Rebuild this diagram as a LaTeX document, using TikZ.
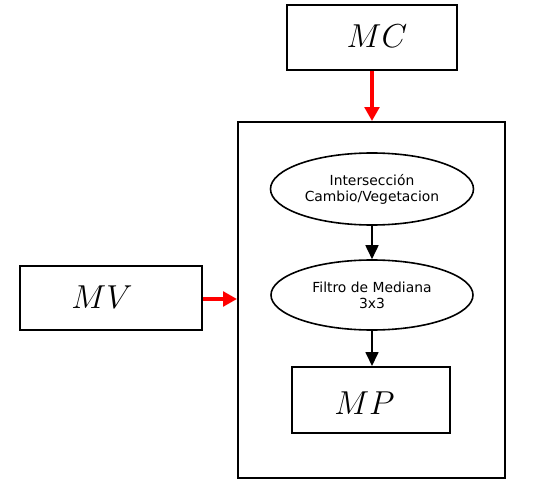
\documentclass[tikz,border=0pt]{standalone}
\usepackage{fontspec}
\setsansfont{DejaVu Sans}
\usetikzlibrary{arrows.meta,shapes.geometric}
\begin{document}
\begin{tikzpicture}[x=0.75pt,y=-0.75pt,
  boxnode/.style={draw,line width=1.5pt,inner sep=0pt},
  labelnode/.style={inner sep=0pt,font=\fontsize{23}{27}\selectfont},
  ellnode/.style={ellipse,draw,line width=1.2pt,inner sep=0pt,align=center,font=\sffamily\fontsize{10.4}{12}\selectfont},
  redarrow/.style={draw=red,line width=2.6pt,-{Triangle[length=10.5pt,width=11pt]}},
  blackarrow/.style={draw=black,line width=1.3pt,-{Triangle[length=10.5pt,width=9.75pt]}}]
\useasboundingbox (0,0) rectangle (533,489);
\node[boxnode,minimum width=127.5pt,minimum height=48.75pt] (mc) at (372,37.5) {};
\node[labelnode] (mctext) at (377,36) {$MC$};
\node[boxnode,minimum width=200.25pt,minimum height=267pt] (big) at (371.5,300) {};
\node[boxnode,minimum width=136.5pt,minimum height=48pt] (mv) at (111,298) {};
\node[labelnode] (mvtext) at (102,297.5) {$MV$};
\node[ellnode,minimum width=152.25pt,minimum height=54pt] (e1) at (372,189) {Intersección\\Cambio/Vegetacion};
\node[ellnode,minimum width=151.5pt,minimum height=52.5pt] (e2) at (372,295) {Filtro de Mediana\\3x3};
\node[boxnode,minimum width=118.5pt,minimum height=49.5pt] (mp) at (371,400) {};
\node[labelnode] (mptext) at (364.5,403) {$MP$};
\draw[redarrow] (mc.south) -- (mc.south |- big.north);
\draw[redarrow] ([yshift=-0.75pt]mv.east) -- ([yshift=-0.75pt]mv.east -| big.west);
\draw[blackarrow] (e1.south) -- (e2.north);
\draw[blackarrow] (e2.south) -- (e2.south |- mp.north);
\end{tikzpicture}
\end{document}
